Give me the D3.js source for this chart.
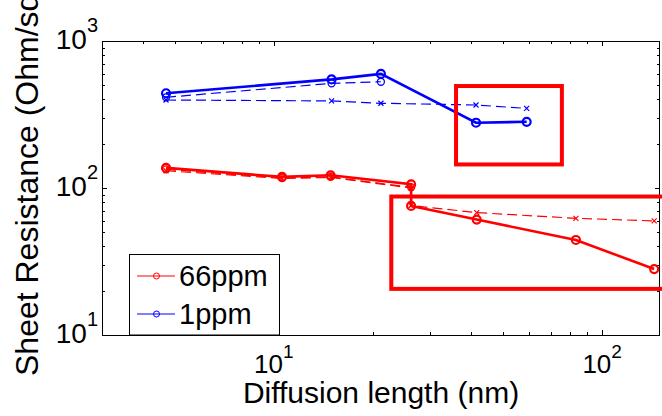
<!DOCTYPE html>
<html>
<head>
<meta charset="utf-8">
<script src="https://cdn.jsdelivr.net/npm/d3@7"></script>
<style>
  body { margin: 0; background: #fff; }
  svg { display: block; font-family: "Liberation Sans", Arial, sans-serif; }
</style>
</head>
<body>
<div id="chart"></div>
<script>
// diffusion length (nm)
const xRed = [4.7, 10.6, 14.9, 26.2, 26.2, 41.5, 83.2, 144];
const xRedLeft = [4.7, 10.6, 14.9, 26.2];
const xBlue = [4.7, 15.0, 21.2, 41.3, 58.9];
const xBlueLeft = [4.7, 15.0, 21.2];

// sheet resistance (Ohm/sq)
const red66Solid = [137, 119, 122, 106, 75.5, 61, 44.3, 28.1];
const red66DashO = [134, 117, 119, 101];
const red66DashX = [131, 116, 118, 100, 76, 68, 62.2, 59.7];
const blue1Solid = [441, 548, 597, 278, 282];
const blue1DashO = [414, 515, 528];
const blue1DashX = [397, 391, 377, 367, 348];

const legendNames = ["66ppm", "1ppm"];
const xMajor = [10, 100];
const yMajor = [10, 100, 1000];

// highlight boxes in data units: [x0, x1, y0, y1]
const boxes = [
  [35.9, 75.4, 144.6, 494],
  [22.8, 175, 20.6, 87.5]
];

const W = 662, H = 416;
const margin = { top: 41, right: 2, bottom: 81, left: 102 };

const x = d3.scaleLog().domain([3, 150]).range([margin.left, W - margin.right]);
const y = d3.scaleLog().domain([10, 1000]).range([H - margin.bottom, margin.top]);

const svg = d3.select("#chart").append("svg")
  .attr("width", W)
  .attr("height", H);

const x0 = margin.left, x1 = W - margin.right, y0 = H - margin.bottom, y1 = margin.top;

// minor / major ticks on all four sides
const xMinor = d3.range(4, 10).concat(d3.range(20, 100, 10));
const yMinor = d3.range(20, 100, 10).concat(d3.range(200, 1000, 100));
const tickG = svg.append("g").attr("stroke", "#000").attr("stroke-width", 1);

xMinor.concat(xMajor).forEach(v => {
  const len = xMajor.includes(v) ? 5 : 3;
  const px = Math.round(x(v)) + 0.5;
  tickG.append("line").attr("x1", px).attr("x2", px).attr("y1", y0).attr("y2", y0 - len);
  tickG.append("line").attr("x1", px).attr("x2", px).attr("y1", y1).attr("y2", y1 + len);
});
yMinor.concat(yMajor).forEach(v => {
  const len = yMajor.includes(v) ? 5 : 3;
  const py = Math.round(y(v)) + 0.5;
  tickG.append("line").attr("x1", x0).attr("x2", x0 + len).attr("y1", py).attr("y2", py);
  tickG.append("line").attr("x1", x1).attr("x2", x1 - len).attr("y1", py).attr("y2", py);
});

svg.append("rect")
  .attr("x", x0 + 0.5).attr("y", y1 + 0.5)
  .attr("width", x1 - x0 - 1).attr("height", y0 - y1)
  .attr("fill", "none").attr("stroke", "#000").attr("stroke-width", 1);

// tick labels
xMajor.forEach(v => {
  const t = svg.append("text")
    .attr("x", x(v)).attr("y", y0 + 38)
    .attr("text-anchor", "middle")
    .attr("font-size", 26);
  t.append("tspan").text("10");
  t.append("tspan").attr("dy", -15).attr("font-size", 19).text(Math.round(Math.log10(v)));
});
yMajor.forEach(v => {
  const t = svg.append("text")
    .attr("x", x0 - 4).attr("y", y(v) + 8)
    .attr("text-anchor", "end")
    .attr("font-size", 28);
  t.append("tspan").text("10");
  t.append("tspan").attr("dy", -17).attr("font-size", 20).text(Math.round(Math.log10(v)));
});

// axis titles
svg.append("text")
  .attr("x", (x0 + x1) / 2).attr("y", 403)
  .attr("text-anchor", "middle")
  .attr("font-size", 30)
  .text("Diffusion length (nm)");

// the original figure clips the end of this title at the top edge
svg.append("text")
  .attr("transform", "translate(38, 376) rotate(-90)")
  .attr("text-anchor", "start")
  .attr("font-size", 32)
  .text("Sheet Resistance (Ohm/sq)");

// series
const RED = "#ff0000", BLUE = "#0000ff";
const line = d3.line().x(d => x(d[0])).y(d => y(d[1]));

const series = [
  { xs: xRedLeft, ys: red66DashO, color: RED, width: 1.2, dash: "10,5", marker: "o" },
  { xs: xRed, ys: red66DashX, color: RED, width: 1.2, dash: "10,5", marker: "x" },
  { xs: xRed, ys: red66Solid, color: RED, width: 2.6, dash: null, marker: "O" },
  { xs: xBlueLeft, ys: blue1DashO, color: BLUE, width: 1.2, dash: "10,5", marker: "o" },
  { xs: xBlue, ys: blue1DashX, color: BLUE, width: 1.2, dash: "10,5", marker: "x" },
  { xs: xBlue, ys: blue1Solid, color: BLUE, width: 2.6, dash: null, marker: "O" }
];

const plotG = svg.append("g");
series.forEach(s => {
  const pts = s.xs.map((v, i) => [v, s.ys[i]]);
  plotG.append("path")
    .datum(pts)
    .attr("d", line)
    .attr("fill", "none")
    .attr("stroke", s.color)
    .attr("stroke-width", s.width)
    .attr("stroke-dasharray", s.dash);

  if (s.marker === "x") {
    plotG.selectAll(null).data(pts).join("path")
      .attr("d", d => {
        const cx = x(d[0]), cy = y(d[1]), r = 2.5;
        return `M${cx - r},${cy - r}L${cx + r},${cy + r}M${cx - r},${cy + r}L${cx + r},${cy - r}`;
      })
      .attr("stroke", s.color).attr("stroke-width", 1.2);
  } else {
    plotG.selectAll(null).data(pts).join("circle")
      .attr("cx", d => x(d[0])).attr("cy", d => y(d[1]))
      .attr("r", s.marker === "O" ? 4 : 3.5)
      .attr("fill", "none")
      .attr("stroke", s.color)
      .attr("stroke-width", s.marker === "O" ? 2.2 : 1.3);
  }
});

// highlight boxes
boxes.forEach(b => {
  svg.append("rect")
    .attr("x", x(b[0])).attr("y", y(b[3]))
    .attr("width", x(b[1]) - x(b[0]))
    .attr("height", y(b[2]) - y(b[3]))
    .attr("fill", "none")
    .attr("stroke", RED)
    .attr("stroke-width", 4);
});

// legend
const leg = svg.append("g");
leg.append("rect")
  .attr("x", 129.5).attr("y", 254.5)
  .attr("width", 150).attr("height", y0 - 254.5)
  .attr("fill", "#fff").attr("stroke", "#000").attr("stroke-width", 1);

[RED, BLUE].forEach((c, i) => {
  const ly = 276 + i * 38;
  leg.append("line")
    .attr("x1", 137).attr("x2", 175).attr("y1", ly).attr("y2", ly)
    .attr("stroke", c).attr("stroke-width", 1);
  leg.append("circle")
    .attr("cx", 156.5).attr("cy", ly).attr("r", 3)
    .attr("fill", "none").attr("stroke", c).attr("stroke-width", 1);
  leg.append("text")
    .attr("x", 179).attr("y", ly + 10)
    .attr("font-size", 29)
    .text(legendNames[i]);
});
</script>
</body>
</html>
